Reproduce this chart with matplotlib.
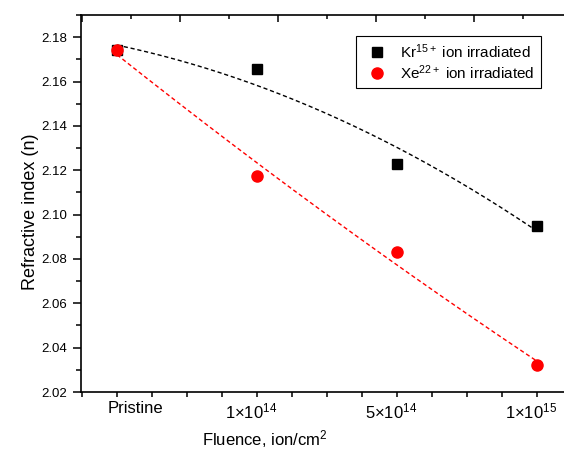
import matplotlib
matplotlib.use("Agg")
import matplotlib.pyplot as plt
import matplotlib.transforms as mtransforms
from matplotlib.ticker import MultipleLocator, FormatStrFormatter
import numpy as np

plt.rcParams['font.family'] = ['Liberation Sans', 'DejaVu Sans']
plt.rcParams['mathtext.fontset'] = 'custom'
plt.rcParams['mathtext.rm'] = 'Liberation Sans'
plt.rcParams['mathtext.it'] = 'Liberation Sans:italic'
plt.rcParams['mathtext.bf'] = 'Liberation Sans:bold'

# datos
fluence_labels = ['Pristine', '1×10$^{14}$', '5×10$^{14}$', '1×10$^{15}$']
kr_n = [2.174, 2.1655, 2.123, 2.095]
xe_n = [2.174, 2.1176, 2.083, 2.032]

x = np.arange(len(fluence_labels))

fig = plt.figure(figsize=(5.64, 4.49), dpi=100)
ax = fig.add_axes([81 / 564, 1 - 392 / 449, (564 - 81) / 564, (392 - 15) / 449])

# ajuste polinomial (orden 2) como linea discontinua
xf = np.linspace(x[0], x[-1], 200)
kr_fit = np.polyval(np.polyfit(x, kr_n, 2), xf)
xe_fit = np.polyval(np.polyfit(x, xe_n, 2), xf)
ax.plot(xf, kr_fit, color='black', lw=1, ls=(0, (3, 2)))
ax.plot(xf, xe_fit, color='red', lw=1, ls=(0, (3, 2)))

ax.plot(x, kr_n, 's', color='black', ms=6.5, label='Kr$^{15+}$ ion irradiated')
ax.plot(x, xe_n, 'o', color='red', ms=8, label='Xe$^{22+}$ ion irradiated')

ax.set_xlim(-0.257, 3.193)
ax.set_ylim(2.02, 2.19)

ax.set_xticks(x)
ax.set_xticklabels(fluence_labels, fontsize=12)
ax.xaxis.set_minor_locator(MultipleLocator(0.25))
ax.yaxis.set_major_locator(MultipleLocator(0.02))
ax.yaxis.set_minor_locator(MultipleLocator(0.01))
ax.yaxis.set_major_formatter(FormatStrFormatter('%.2f'))
ax.tick_params(axis='x', which='both', direction='out', length=3.6, width=1.1, pad=3)
ax.tick_params(axis='y', which='major', direction='out', length=5.8, width=1.1, pad=4, labelsize=9.5)
ax.tick_params(axis='y', which='minor', direction='out', length=3.6, width=1.1)
ax.tick_params(top=False, right=False, which='both')

# desplazamiento de las etiquetas como en el original
for lab, dx in zip(ax.get_xticklabels(), [18, -6, -6, -6]):
    lab.set_transform(lab.get_transform() + mtransforms.ScaledTranslation(dx / 100, 0, fig.dpi_scale_trans))

for s in ['left', 'bottom', 'top']:
    ax.spines[s].set_linewidth(1.2)
ax.spines['right'].set_visible(False)

# ticks del eje superior
ax2 = ax.twiny()
ax2.set_xlim(ax.get_xlim())
ax2.set_xticks([-0.25, 0.45, 1.15, 1.85, 2.55])
ax2.set_xticks([0.1, 0.8, 1.5, 2.2, 2.9], minor=True)
ax2.tick_params(axis='x', which='major', direction='in', length=5, width=1.1, labeltop=False)
ax2.tick_params(axis='x', which='minor', direction='in', length=3, width=1.1)
for s in ax2.spines.values():
    s.set_visible(False)

ax.set_xlabel('Fluence, ion/cm$^2$', fontsize=12)
ax.xaxis.set_label_coords(0.381, -0.097)
ax.set_ylabel('Refractive index (n)', fontsize=13)
ax.yaxis.set_label_coords(-0.086, 0.477)

leg = ax.legend(loc='upper right', bbox_to_anchor=(0.952, 0.944), borderaxespad=0,
                fontsize=11, numpoints=1, handlelength=2.0, handletextpad=0.5,
                borderpad=0.4, labelspacing=0.15, fancybox=False, framealpha=1,
                edgecolor='black')
leg.get_frame().set_linewidth(0.8)

fig.savefig('out.png', dpi=100)
